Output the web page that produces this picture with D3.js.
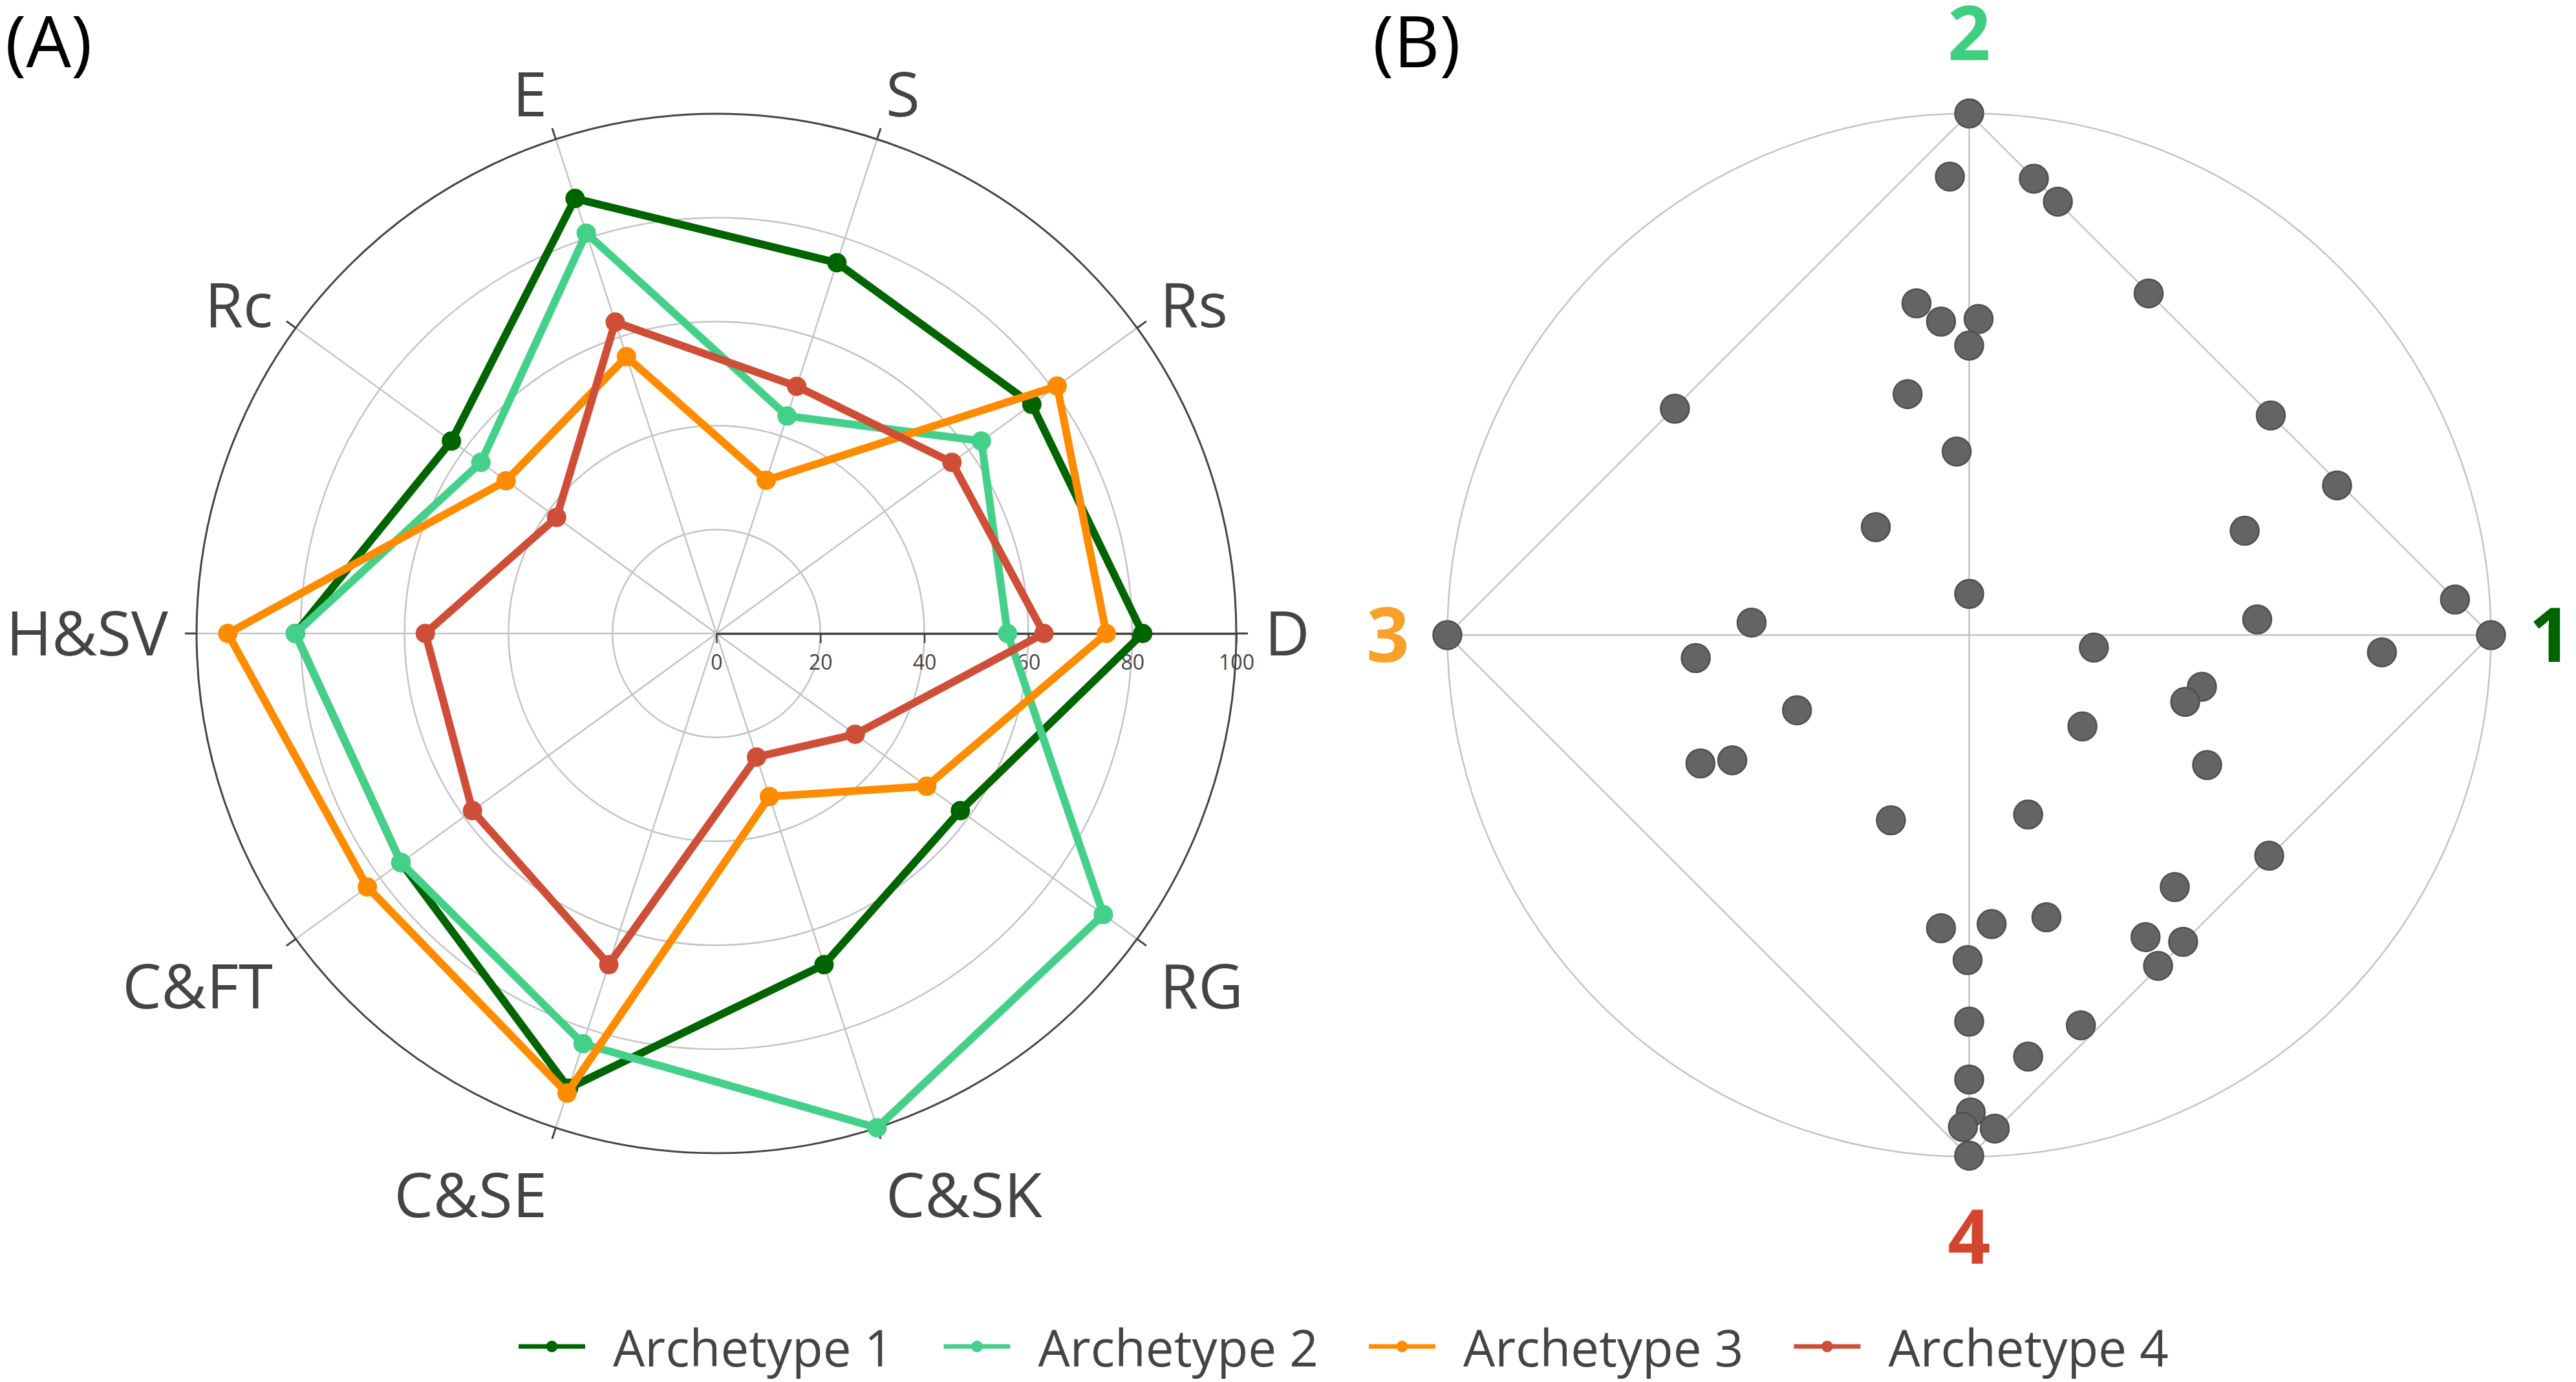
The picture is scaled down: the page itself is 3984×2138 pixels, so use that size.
<!DOCTYPE html>
<html>
<head>
<meta charset="utf-8">
<script src="https://cdn.jsdelivr.net/npm/d3@7"></script>
<style>
  html, body { margin: 0; padding: 0; background: #fff; }
  text { font-family: "Open Sans", sans-serif; }
</style>
</head>
<body>
<svg id="chart"></svg>
<script>
// ---- data ----
const axes = ["D", "Rs", "S", "E", "Rc", "H&SV", "C&FT", "C&SE", "C&SK", "RG"];
const radialTicks = [0, 20, 40, 60, 80, 100];

const archetype1 = [82, 75, 75, 88, 63, 81, 75, 92, 67, 58];
const archetype2 = [56, 63, 44, 81, 56, 81, 75, 83, 100, 92];
const archetype3 = [75, 81, 31, 56, 50, 94, 83, 93, 33, 50];
const archetype4 = [63, 56, 50, 63, 38, 56, 58, 67, 25, 33];

const archetypeNames = ["Archetype 1", "Archetype 2", "Archetype 3", "Archetype 4"];
const archetypeColors = ["#006400", "#45d08a", "#ff8c00", "#cf4e38"];

// panel B: archetype corners and mixture positions (unit disc)
const cornerLabels = ["1", "2", "3", "4"];
const cornerColors = ["#006400", "#3ecf80", "#f7a12b", "#d2462f"];
const corners = [[1, 0], [0, 1], [-1, 0], [0, -1]];

const mixture = [
  [0, 1.0], [-0.037, 0.879], [0.124, 0.875], [0.170, 0.831], [0.344, 0.655],
  [-0.101, 0.636], [-0.054, 0.601], [0.018, 0.606], [0, 0.555], [-0.564, 0.434],
  [-0.118, 0.462], [0.578, 0.421], [-0.024, 0.352], [0.705, 0.287], [-0.179, 0.207],
  [0.528, 0.200], [0.931, 0.068], [0, 0.079], [-0.417, 0.024], [0.552, 0.030],
  [-1, 0], [1, 0], [0.239, -0.024], [0.791, -0.033], [-0.524, -0.044],
  [0.446, -0.099], [0.414, -0.128], [-0.330, -0.144], [0.217, -0.175], [-0.515, -0.246],
  [-0.454, -0.240], [0.456, -0.249], [-0.150, -0.355], [0.113, -0.344], [0.575, -0.423],
  [0.394, -0.483], [-0.054, -0.562], [0.043, -0.554], [0.148, -0.541], [0.338, -0.579],
  [0.410, -0.588], [0.362, -0.634], [-0.003, -0.623], [0, -0.741], [0.214, -0.748],
  [0.113, -0.808], [0, -0.852], [0.003, -0.915], [-0.012, -0.943], [0.049, -0.946],
  [0, -0.998]
];

// ---- setup ----
const width = 3984;
const height = 2138;

const svg = d3.select('#chart')
    .attr('width', width)
    .attr('height', height);

const grid = '#c4c4c4';
const dark = '#444';

// ---- panel A: radar ----
const cxA = 1108, cyA = 980, R = 804;

const r = d3.scaleLinear().domain([0, 100]).range([0, R]);
const angle = d3.scaleLinear().domain([0, axes.length]).range([0, 2 * Math.PI]);
const px = (i, v) => r(v) * Math.cos(angle(i));
const py = (i, v) => -r(v) * Math.sin(angle(i));

const gA = svg.append('g').attr('transform', `translate(${cxA},${cyA})`);

gA.selectAll('circle.grid')
    .data(radialTicks.slice(1, -1))
    .join('circle')
    .attr('class', 'grid')
    .attr('r', d => r(d))
    .attr('fill', 'none')
    .attr('stroke', grid)
    .attr('stroke-width', 2.5);

gA.selectAll('line.spoke')
    .data(axes)
    .join('line')
    .attr('class', 'spoke')
    .attr('x1', 0).attr('y1', 0)
    .attr('x2', (d, i) => px(i, 100))
    .attr('y2', (d, i) => py(i, 100))
    .attr('stroke', grid)
    .attr('stroke-width', 2.5);

gA.append('circle')
    .attr('r', r(100))
    .attr('fill', 'none')
    .attr('stroke', dark)
    .attr('stroke-width', 3);

// angular ticks outside
const tickLen = 18;
gA.selectAll('line.atick')
    .data(axes)
    .join('line')
    .attr('class', 'atick')
    .attr('x1', (d, i) => px(i, 100))
    .attr('y1', (d, i) => py(i, 100))
    .attr('x2', (d, i) => (R + tickLen) * Math.cos(angle(i)))
    .attr('y2', (d, i) => -(R + tickLen) * Math.sin(angle(i)))
    .attr('stroke', dark)
    .attr('stroke-width', 3);

// radial axis
const rAxis = d3.axisBottom(r)
    .tickValues(radialTicks)
    .tickSize(15)
    .tickSizeOuter(0)
    .tickPadding(18);

const ax = gA.append('g').call(rAxis);
ax.attr('font-family', null);
ax.select('.domain').attr('stroke', dark).attr('stroke-width', 3.5);
ax.selectAll('.tick line').attr('stroke', dark).attr('stroke-width', 2.5);
ax.selectAll('.tick text')
    .attr('font-size', 32)
    .attr('fill', dark);

// angular labels
const labelR = R + 44;
const labelOff = s => s > 0.1 ? -(50 * s - 19.5) : (s < -0.1 ? 42.7 * (-s) + 22 : 0);

gA.selectAll('text.alabel')
    .data(axes)
    .join('text')
    .attr('class', 'alabel')
    .attr('x', (d, i) => labelR * Math.cos(angle(i)))
    .attr('y', (d, i) => -labelR * Math.sin(angle(i)) + labelOff(Math.sin(angle(i))))
    .attr('dy', '0.357em')
    .attr('text-anchor', (d, i) => {
        const c = Math.cos(angle(i));
        return c > 0.1 ? 'start' : (c < -0.1 ? 'end' : 'middle');
    })
    .attr('font-size', 96)
    .attr('fill', dark)
    .text(d => d);

// series
const series = [archetype1, archetype2, archetype3, archetype4];

const radarLine = d3.lineRadial()
    .angle((d, i) => Math.PI / 2 - angle(i))
    .radius(d => r(d))
    .curve(d3.curveLinearClosed);

series.forEach((values, k) => {
    const g = gA.append('g');
    g.append('path')
        .datum(values)
        .attr('d', radarLine)
        .attr('fill', 'none')
        .attr('stroke', archetypeColors[k])
        .attr('stroke-width', 12)
        .attr('stroke-linejoin', 'round');
    g.selectAll('circle')
        .data(values)
        .join('circle')
        .attr('cx', (d, i) => px(i, d))
        .attr('cy', (d, i) => py(i, d))
        .attr('r', 15)
        .attr('fill', archetypeColors[k]);
});

svg.append('text')
    .attr('x', 8).attr('y', 104)
    .attr('font-size', 110)
    .attr('fill', '#000')
    .text('(A)');

// ---- panel B: archetype space ----
const cxB = 3045.5, cyB = 982.5, RB = 807;

const x = d3.scaleLinear().domain([-1, 1]).range([cxB - RB, cxB + RB]);
const y = d3.scaleLinear().domain([-1, 1]).range([cyB + RB, cyB - RB]);

const gB = svg.append('g');

gB.append('circle')
    .attr('cx', x(0)).attr('cy', y(0))
    .attr('r', x(1) - x(0))
    .attr('fill', 'none')
    .attr('stroke', grid)
    .attr('stroke-width', 2.5);

// diamond
gB.append('path')
    .datum(corners)
    .attr('d', d3.line().x(d => x(d[0])).y(d => y(d[1])).curve(d3.curveLinearClosed))
    .attr('fill', 'none')
    .attr('stroke', grid)
    .attr('stroke-width', 2.5);

// cross lines between opposite corners
gB.selectAll('line.cross')
    .data([[corners[0], corners[2]], [corners[1], corners[3]]])
    .join('line')
    .attr('class', 'cross')
    .attr('x1', d => x(d[0][0])).attr('y1', d => y(d[0][1]))
    .attr('x2', d => x(d[1][0])).attr('y2', d => y(d[1][1]))
    .attr('stroke', grid)
    .attr('stroke-width', 2.5);

gB.selectAll('circle.pt')
    .data(mixture)
    .join('circle')
    .attr('class', 'pt')
    .attr('cx', d => x(d[0]))
    .attr('cy', d => y(d[1]))
    .attr('r', 22)
    .attr('fill', '#646464')
    .attr('stroke', '#505050')
    .attr('stroke-width', 2.5);

// corner numbers
const padH = 92 / RB, padV = 124 / RB;
gB.selectAll('text.corner')
    .data(corners)
    .join('text')
    .attr('class', 'corner')
    .attr('x', d => x(d[0] * (1 + padH)))
    .attr('y', d => y(d[1] * (1 + padV)))
    .attr('dy', '0.357em')
    .attr('text-anchor', 'middle')
    .attr('font-size', 116)
    .attr('font-weight', 'bold')
    .attr('fill', (d, i) => cornerColors[i])
    .text((d, i) => cornerLabels[i]);

svg.append('text')
    .attr('x', 2123).attr('y', 104)
    .attr('font-size', 110)
    .attr('fill', '#000')
    .text('(B)');

// ---- legend ----
const legend = svg.append('g').attr('transform', 'translate(0,2083)');
let lx = 802;
archetypeNames.forEach((name, i) => {
    const g = legend.append('g').attr('transform', `translate(${lx},0)`);
    g.append('line')
        .attr('x1', 0).attr('x2', 103)
        .attr('stroke', archetypeColors[i])
        .attr('stroke-width', 7);
    g.append('circle')
        .attr('cx', 51.5)
        .attr('r', 9)
        .attr('fill', archetypeColors[i]);
    const t = g.append('text')
        .attr('x', 146)
        .attr('y', 3)
        .attr('dy', '0.357em')
        .attr('font-size', 78)
        .attr('fill', dark)
        .text(name);
    lx += 146 + t.node().getComputedTextLength() + 78;
});
</script>
</body>
</html>
